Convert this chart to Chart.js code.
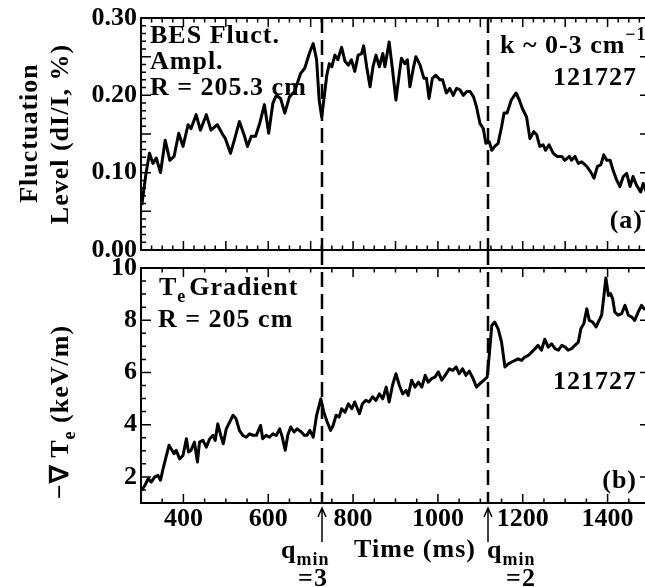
<!DOCTYPE html>
<html>
<head>
<meta charset="utf-8">
<script src="https://cdn.jsdelivr.net/npm/chart.js@4.4.1/dist/chart.umd.min.js"></script>
<style>
  html, body { margin: 0; padding: 0; background: #fff; width: 645px; height: 587px; overflow: hidden; }
  canvas { position: absolute; left: 0; }
  #chartA { top: -20px; }
  #chartB { top: 240px; }
</style>
</head>
<body>
<canvas id="chartA" width="660" height="300"></canvas>
<canvas id="chartB" width="660" height="347"></canvas>
<script>
// (a) BES fluctuation amplitude, R = 205.3 cm  (time in ms, level in %)
const timeA = [302, 312, 320, 328, 336, 346, 357, 368, 378, 389, 399, 411, 418, 430, 440, 454, 465, 480, 493, 499,
  511, 521, 532, 543, 551, 560, 570, 580, 591, 601, 611, 619, 629, 639, 650, 662, 676, 686, 698, 706,
  714, 720, 726, 731, 738, 744, 750, 757, 764, 773, 781, 789, 796, 804, 812, 820, 825, 832, 840, 847,
  854, 862, 870, 875, 885, 893, 901, 909, 914, 922, 928, 934, 942, 948, 958, 967, 973, 979, 987, 995,
  1005, 1011, 1020, 1028, 1036, 1044, 1052, 1060, 1068, 1076, 1084, 1091, 1099, 1107, 1113, 1121, 1127, 1134, 1142, 1150,
  1156, 1163, 1173, 1184, 1192, 1199, 1209, 1217, 1226, 1233, 1240, 1248, 1254, 1262, 1272, 1281, 1292, 1299, 1310, 1315,
  1323, 1331, 1339, 1351, 1360, 1368, 1376, 1384, 1391, 1398, 1406, 1413, 1421, 1429, 1437, 1445, 1453, 1460, 1468, 1478,
  1484, 1495];
const flucA = [0.058, 0.100, 0.125, 0.112, 0.119, 0.100, 0.142, 0.116, 0.121, 0.151, 0.134, 0.162, 0.157, 0.175, 0.155, 0.175, 0.155, 0.162, 0.149, 0.144,
  0.125, 0.144, 0.166, 0.149, 0.134, 0.147, 0.147, 0.164, 0.188, 0.151, 0.190, 0.200, 0.196, 0.177, 0.198, 0.205, 0.228, 0.235, 0.256, 0.267,
  0.246, 0.194, 0.172, 0.194, 0.226, 0.241, 0.237, 0.252, 0.246, 0.262, 0.244, 0.239, 0.246, 0.231, 0.252, 0.254, 0.264, 0.237, 0.211, 0.237,
  0.252, 0.237, 0.254, 0.237, 0.269, 0.233, 0.194, 0.228, 0.248, 0.241, 0.246, 0.211, 0.235, 0.250, 0.239, 0.222, 0.222, 0.196, 0.222, 0.226,
  0.220, 0.220, 0.203, 0.209, 0.200, 0.209, 0.207, 0.200, 0.205, 0.205, 0.198, 0.185, 0.164, 0.157, 0.138, 0.140, 0.129, 0.134, 0.138, 0.159,
  0.177, 0.177, 0.194, 0.203, 0.194, 0.183, 0.172, 0.144, 0.153, 0.149, 0.134, 0.136, 0.129, 0.136, 0.125, 0.121, 0.121, 0.116, 0.121, 0.116,
  0.121, 0.112, 0.114, 0.108, 0.101, 0.093, 0.108, 0.110, 0.123, 0.116, 0.116, 0.103, 0.091, 0.082, 0.095, 0.099, 0.082, 0.095, 0.084, 0.075,
  0.086, 0.070];

// (b) -grad Te at R = 205 cm (keV/m)
const timeB = [301, 309, 317, 324, 332, 340, 346, 352, 360, 366, 371, 378, 383, 391, 399, 407, 412, 418, 426, 433,
  438, 446, 454, 462, 470, 475, 481, 488, 494, 501, 509, 517, 524, 532, 540, 548, 556, 564, 572, 582,
  587, 595, 603, 611, 619, 627, 632, 640, 646, 653, 661, 668, 678, 685, 691, 698, 706, 714, 724, 731,
  739, 747, 753, 760, 767, 773, 781, 789, 797, 804, 815, 822, 830, 838, 846, 854, 862, 870, 878, 885,
  893, 901, 909, 917, 925, 930, 938, 946, 954, 962, 970, 977, 985, 993, 1001, 1009, 1017, 1027, 1035, 1043,
  1050, 1058, 1066, 1074, 1083, 1091, 1099, 1108, 1116, 1121, 1127, 1134, 1142, 1150, 1158, 1166, 1174, 1182, 1189, 1197,
  1205, 1213, 1221, 1229, 1236, 1244, 1252, 1260, 1268, 1276, 1284, 1292, 1300, 1307, 1315, 1323, 1331, 1337, 1344, 1351,
  1357, 1365, 1373, 1378, 1386, 1391, 1396, 1402, 1407, 1412, 1417, 1425, 1433, 1441, 1449, 1457, 1464, 1472, 1480, 1486,
  1495];
const gradB = [1.48, 1.67, 1.93, 1.80, 1.99, 2.06, 1.87, 2.31, 2.82, 3.21, 3.08, 2.89, 3.02, 2.69, 2.82, 3.46, 2.95, 3.02, 3.33, 2.57,
  3.33, 3.40, 3.14, 3.46, 3.59, 3.40, 4.03, 3.59, 3.27, 3.84, 4.10, 4.36, 4.23, 3.78, 3.59, 3.52, 3.65, 3.59, 3.59, 3.97,
  3.46, 3.59, 3.52, 3.65, 3.59, 3.84, 3.59, 3.02, 3.59, 3.91, 3.72, 3.84, 3.72, 3.59, 3.59, 3.78, 3.52, 4.36, 4.99, 4.48,
  4.10, 3.78, 3.97, 4.36, 4.29, 4.61, 4.48, 4.80, 4.61, 4.87, 4.42, 4.80, 4.93, 4.87, 5.07, 4.93, 5.18, 4.99, 5.44, 4.87,
  5.51, 5.95, 5.51, 5.18, 5.31, 5.12, 5.70, 5.44, 5.63, 5.44, 5.89, 5.63, 5.76, 5.82, 6.02, 5.70, 5.89, 6.14, 6.08, 6.21,
  5.95, 6.14, 5.89, 6.05, 5.76, 5.44, 5.57, 5.70, 5.82, 6.65, 7.80, 7.93, 7.67, 7.16, 6.21, 6.33, 6.40, 6.46, 6.52, 6.46,
  6.59, 6.65, 6.78, 6.91, 7.04, 6.85, 7.27, 6.97, 7.10, 6.91, 6.85, 7.04, 6.97, 6.85, 6.91, 7.04, 7.16, 7.67, 7.87, 8.44,
  7.99, 7.93, 7.74, 7.93, 8.19, 8.89, 9.62, 8.95, 9.02, 8.82, 8.31, 8.19, 8.25, 8.57, 8.19, 8.12, 7.99, 8.31, 8.57, 8.44,
  8.40];

const ticksA = [0, 0.1, 0.2, 0.3];
const ticksB = [2, 4, 6, 8, 10];
const timeTicks = [400, 600, 800, 1000, 1200, 1400];
const qminTimes = [726, 1119];   // q_min = 3 and q_min = 2
const qminLabels = ["=3", "=2"];

const SERIF = '"Liberation Serif", "Times New Roman", serif';
const FS = 26, SUB = 18;

function setFont(ctx, size) { ctx.font = "bold " + size + "px " + SERIF; }

// draws text made of parts [text, 'sub'|'sup'|undefined, extra gap]
function rich(ctx, parts, x, y, align) {
  ctx.letterSpacing = "1px";
  let total = 0;
  const items = parts.map(p => {
    const size = p[1] ? SUB : FS;
    setFont(ctx, size);
    const gap = p[2] || 0;
    const w = ctx.measureText(p[0]).width + gap;
    total += w;
    return { t: p[0], size: size, w: w, gap: gap, dy: p[1] === "sub" ? 7 : p[1] === "sup" ? -13 : 0 };
  });
  let cx = align === "right" ? x - total : align === "center" ? x - total / 2 : x;
  ctx.textAlign = "left";
  ctx.textBaseline = "alphabetic";
  items.forEach(it => { setFont(ctx, it.size); ctx.fillText(it.t, cx + it.gap, y + it.dy); cx += it.w; });
}

function tickMarks(chart, c) {
  const { ctx, chartArea: a, scales: { x, y } } = chart;
  const isMajor = (v, step) => Math.abs(v / step - Math.round(v / step)) < 1e-6;
  ctx.save();
  ctx.strokeStyle = "#000";
  ctx.lineWidth = 1.5;
  ctx.beginPath();
  const nx = Math.round((x.max - x.min) / c.xMinor);
  for (let i = 0; i <= nx; i++) {
    const v = x.min + i * c.xMinor;
    const len = isMajor(v, c.xMajor) ? 9 : 4.5;
    const px = x.getPixelForValue(v);
    ctx.moveTo(px, a.bottom); ctx.lineTo(px, a.bottom - len);
    ctx.moveTo(px, a.top); ctx.lineTo(px, a.top + len);
  }
  const ny = Math.round((y.max - y.min) / c.yMinor);
  for (let i = 0; i <= ny; i++) {
    const v = y.min + i * c.yMinor;
    const len = isMajor(v, c.yMajor) ? 10 : 5;
    const py = y.getPixelForValue(v);
    ctx.moveTo(a.left, py); ctx.lineTo(a.left + len, py);
    ctx.moveTo(a.right, py); ctx.lineTo(a.right - len, py);
  }
  ctx.stroke();
  ctx.lineWidth = 2;
  ctx.strokeRect(a.left, a.top, a.right - a.left, a.bottom - a.top);
  ctx.restore();
}

function deco(cfg) {
  return {
    id: "deco",
    beforeDatasetsDraw(chart) {
      const { ctx, chartArea: a, scales: { x } } = chart;
      ctx.save();
      ctx.strokeStyle = "#000";
      ctx.lineWidth = 2.5;
      ctx.setLineDash([15, 7]);
      qminTimes.forEach(t => {
        const px = Math.round(x.getPixelForValue(t));
        ctx.beginPath();
        ctx.moveTo(px, a.top - cfg.dashUp);
        ctx.lineTo(px, a.bottom);
        ctx.stroke();
      });
      ctx.restore();
    },
    afterDatasetsDraw(chart) { tickMarks(chart, cfg.ticks); },
    afterDraw(chart) {
      const ctx = chart.ctx;
      ctx.save();
      ctx.translate(0, -cfg.top);   // work in page coordinates
      ctx.fillStyle = "#000";
      ctx.strokeStyle = "#000";
      cfg.texts.forEach(t => rich(ctx, t.parts, t.x, t.y, t.align));
      cfg.vtitles.forEach(t => {
        ctx.save();
        ctx.translate(t.x, t.y);
        ctx.rotate(-Math.PI / 2);
        rich(ctx, t.parts, 0, 0, "center");
        ctx.restore();
      });
      if (cfg.extra) cfg.extra(chart, ctx);
      ctx.restore();
    }
  };
}

function makeChart(id, times, vals, yMin, yMax, yTicks, xHeight, padTop, showX, cfg) {
  return new Chart(document.getElementById(id).getContext("2d"), {
    type: "line",
    data: {
      datasets: [{
        data: times.map((t, i) => ({ x: t, y: vals[i] })),
        borderColor: "#000",
        borderWidth: 3,
        borderJoinStyle: "round",
        pointRadius: 0,
        tension: 0
      }]
    },
    options: {
      responsive: false,
      animation: false,
      events: [],
      layout: { padding: { top: padTop, right: 10, left: 0, bottom: 0 } },
      plugins: { legend: { display: false }, tooltip: { enabled: false } },
      scales: {
        x: {
          type: "linear",
          min: 300,
          max: 1500,
          grid: { display: false, drawTicks: false },
          border: { display: false },
          afterBuildTicks: s => { s.ticks = timeTicks.map(v => ({ value: v })); },
          afterFit: s => { s.height = xHeight; },
          ticks: {
            display: showX,
            padding: 1,
            maxRotation: 0,
            autoSkip: false,
            color: "#000",
            font: { family: SERIF, size: FS, weight: "bold" },
            callback: v => String(v)
          }
        },
        y: {
          min: yMin,
          max: yMax,
          grid: { display: false, drawTicks: false },
          border: { display: false },
          afterBuildTicks: s => { s.ticks = yTicks.map(v => ({ value: v })); },
          afterFit: s => { s.width = 141; },
          ticks: {
            padding: 4,
            color: "#000",
            font: { family: SERIF, size: FS, weight: "bold" },
            callback: v => (yMax < 1 ? v.toFixed(2) : String(v))
          }
        }
      }
    },
    plugins: [deco(cfg)]
  });
}

makeChart("chartA", timeA, flucA, 0, 0.30, ticksA, 30, 38, false, {
  top: -20,
  dashUp: 0,
  ticks: { xMinor: 25, xMajor: 100, yMinor: 0.01, yMajor: 0.05 },
  texts: [
    { parts: [["BES Fluct."]], x: 150, y: 43, align: "left" },
    { parts: [["Ampl."]], x: 150, y: 69, align: "left" },
    { parts: [["R = 205.3 cm"]], x: 150, y: 95, align: "left" },
    { parts: [["k ~ 0-3 cm"], ["\u22121", "sup"]], x: 500, y: 53, align: "left" },
    { parts: [["121727"]], x: 637, y: 85, align: "right" },
    { parts: [["(a)"]], x: 643, y: 228, align: "right" }
  ],
  vtitles: [
    { parts: [["Fluctuation"]], x: 37, y: 133 },
    { parts: [["Level (dI/I, %)"]], x: 68, y: 134 }
  ]
});

makeChart("chartB", timeB, gradB, 1, 10, ticksB, 84, 28, true, {
  top: 240,
  dashUp: 18,
  ticks: { xMinor: 50, xMajor: 200, yMinor: 0.5, yMajor: 2 },
  texts: [
    { parts: [["T"], ["e", "sub"], ["Gradient", "", 3]], x: 159, y: 295, align: "left" },
    { parts: [["R = 205 cm"]], x: 158, y: 327, align: "left" },
    { parts: [["121727"]], x: 637, y: 389, align: "right" },
    { parts: [["(b)"]], x: 637, y: 488, align: "right" },
    { parts: [["Time (ms)"]], x: 415, y: 557, align: "center" },
    { parts: [["q"], ["min", "sub"]], x: 281, y: 558, align: "left" },
    { parts: [[qminLabels[0]]], x: 313, y: 586, align: "center" },
    { parts: [["q"], ["min", "sub"]], x: 487, y: 558, align: "left" },
    { parts: [[qminLabels[1]]], x: 521, y: 586, align: "center" }
  ],
  vtitles: [
    { parts: [["\u2212\u2207 T"], ["e", "sub"], [" (keV/m)"]], x: 68, y: 412 }
  ],
  extra: (chart, ctx) => {
    const x = chart.scales.x;
    ctx.lineWidth = 1.5;
    qminTimes.forEach(t => {
      const px = Math.round(x.getPixelForValue(t));
      ctx.beginPath();
      ctx.moveTo(px, 542); ctx.lineTo(px, 508);
      ctx.moveTo(px - 4, 517); ctx.lineTo(px, 508); ctx.lineTo(px + 4, 517);
      ctx.stroke();
    });
  }
});
</script>
</body>
</html>
